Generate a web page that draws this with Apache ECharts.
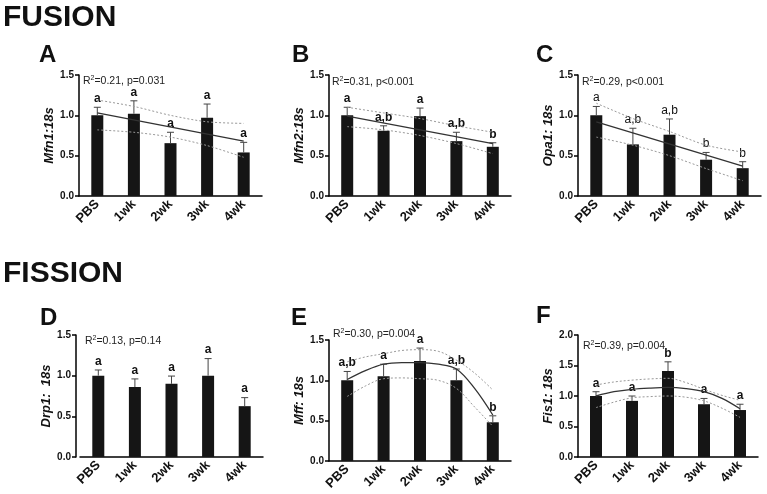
<!DOCTYPE html>
<html><head><meta charset="utf-8">
<script src="https://cdn.jsdelivr.net/npm/echarts@6/dist/echarts.min.js"></script>
<style>html,body{margin:0;padding:0;background:#fff}#c{width:767px;height:494px}</style>
</head><body><div id="c"></div>
<script>
// ---------- data ----------
const cats = ['PBS', '1wk', '2wk', '3wk', '4wk'];
const yTitles = ['Mfn1:18s', 'Mfn2:18s', 'Opa1: 18s', 'Drp1:  18s', 'Mff: 18s', 'Fis1: 18s'];
const panelLetters = ['A', 'B', 'C', 'D', 'E', 'F'];
const r2Values = ['0.21', '0.31', '0.29', '0.13', '0.30', '0.39'];
const pValues = ['p=0.031', 'p<0.001', 'p<0.001', 'p=0.14', 'p=0.004', 'p=0.004'];
const yMaxes = [1.5, 1.5, 1.5, 1.5, 1.5, 2.0];

// A: Mfn1
const meanA = [1.0, 1.02, 0.655, 0.97, 0.54];
const semA = [0.10, 0.16, 0.135, 0.17, 0.125];
const letA = ['a', 'a', 'a', 'a', 'a'];
const fitXA = [0, 4];
const fitA = [1.03, 0.68];
const bandXA = [0, 1, 2, 3, 4];
const upA = [1.19, 1.11, 1.0, 0.92, 0.90];
const loA = [0.82, 0.79, 0.73, 0.625, 0.48];

// B: Mfn2
const meanB = [1.0, 0.81, 0.99, 0.68, 0.61];
const semB = [0.10, 0.06, 0.10, 0.11, 0.05];
const letB = ['a', 'a,b', 'a', 'a,b', 'b'];
const fitXB = [0, 4];
const fitB = [0.99, 0.65];
const bandXB = [0, 1, 2, 3, 4];
const upB = [1.10, 1.03, 0.96, 0.87, 0.79];
const loB = [0.86, 0.82, 0.75, 0.65, 0.525];

// C: Opa1
const meanC = [1.0, 0.64, 0.76, 0.45, 0.345];
const semC = [0.11, 0.20, 0.195, 0.09, 0.08];
const letC = ['a', 'a,b', 'a,b', 'b', 'b'];
const fitXC = [0, 4];
const fitC = [0.92, 0.37];
const bandXC = [0, 1, 2, 3, 4];
const upC = [1.15, 0.96, 0.80, 0.63, 0.545];
const loC = [0.73, 0.63, 0.50, 0.34, 0.19];

// D: Drp1
const meanD = [1.0, 0.86, 0.90, 1.0, 0.625];
const semD = [0.07, 0.10, 0.095, 0.21, 0.105];
const letD = ['a', 'a', 'a', 'a', 'a'];

// E: Mff
const meanE = [1.0, 1.05, 1.24, 1.0, 0.48];
const semE = [0.11, 0.15, 0.16, 0.14, 0.08];
const letE = ['a,b', 'a', 'a', 'a,b', 'b'];
const curveXE = [0, 0.5, 1, 1.5, 2, 2.5, 3, 3.5, 4];
const fitE = [1.01, 1.12, 1.20, 1.22, 1.22, 1.20, 1.14, 0.90, 0.57];
const upE = [1.23, 1.29, 1.33, 1.37, 1.38, 1.36, 1.25, 1.09, 0.88];
const loE = [0.80, 0.93, 1.02, 1.03, 1.02, 1.00, 0.90, 0.67, 0.43];

// F: Fis1
const meanF = [1.0, 0.92, 1.41, 0.865, 0.77];
const semF = [0.07, 0.08, 0.15, 0.095, 0.095];
const letF = ['a', 'a', 'b', 'a', 'a'];
const curveXF = [0, 0.5, 1, 1.5, 2, 2.5, 3, 3.5, 4];
const fitF = [1.0, 1.07, 1.11, 1.13, 1.14, 1.12, 1.07, 0.96, 0.79];
const upF = [1.18, 1.23, 1.26, 1.28, 1.29, 1.22, 1.11, 1.01, 0.93];
const loF = [0.81, 0.90, 0.97, 0.99, 1.00, 0.98, 0.92, 0.80, 0.65];

// ---------- build ----------
const FONT = '"Liberation Sans", Arial, Helvetica, sans-serif';
const panels = [
  {mean: meanA, sem: semA, let: letA, fitX: fitXA, fit: fitA, bandX: bandXA, up: upA, lo: loA, smooth: false, letW: 'bold'},
  {mean: meanB, sem: semB, let: letB, fitX: fitXB, fit: fitB, bandX: bandXB, up: upB, lo: loB, smooth: false, letW: 'bold'},
  {mean: meanC, sem: semC, let: letC, fitX: fitXC, fit: fitC, bandX: bandXC, up: upC, lo: loC, smooth: false, letW: 'normal'},
  {mean: meanD, sem: semD, let: letD, fitX: null, letW: 'bold'},
  {mean: meanE, sem: semE, let: letE, fitX: curveXE, fit: fitE, bandX: curveXE, up: upE, lo: loE, smooth: 0.35, letW: 'bold'},
  {mean: meanF, sem: semF, let: letF, fitX: curveXF, fit: fitF, bandX: curveXF, up: upF, lo: loF, smooth: 0.35, letW: 'bold'}
];
const grids = [
  {left: 79, top: 75, width: 183, height: 121},
  {left: 329, top: 75, width: 182, height: 121},
  {left: 578, top: 75, width: 183, height: 121},
  {left: 80, top: 335, width: 183, height: 122},
  {left: 329, top: 340, width: 182, height: 121},
  {left: 578, top: 335, width: 180, height: 122}
];
const yOffsets = [0, 0, 0, 4, 0, 0];
const letterPos = [[39, 64], [292, 64], [536, 64], [40, 327], [291, 327], [536, 325]];
const statPos = [[83, 81.5], [332, 82], [582, 82], [85, 341], [333, 334.5], [583, 346]];

const option = {
  animation: false,
  backgroundColor: '#ffffff',
  textStyle: {fontFamily: FONT},
  grid: grids,
  xAxis: [], yAxis: [], series: [], graphic: []
};

panels.forEach((p, k) => {
  option.xAxis.push({
    type: 'category', gridIndex: k, data: cats,
    axisLine: {onZero: false, lineStyle: {color: '#000', width: 1.5}},
    axisTick: {show: false},
    axisLabel: {rotate: 45, interval: 0, margin: 6, fontSize: 13, fontWeight: 'bold', color: '#111', fontFamily: FONT}
  });
  option.xAxis.push({type: 'value', gridIndex: k, min: -0.5, max: 4.5, show: false, axisLine: {onZero: false}});
  option.yAxis.push({
    type: 'value', gridIndex: k, min: 0, max: yMaxes[k], interval: 0.5, offset: yOffsets[k],
    axisLine: {show: true, onZero: false, lineStyle: {color: '#000', width: 1.5}},
    axisTick: {show: true, length: 4, lineStyle: {color: '#000', width: 1.5}},
    splitLine: {show: false},
    axisLabel: {formatter: v => v.toFixed(1), fontSize: 10, fontWeight: 'bold', color: '#111', margin: 5, fontFamily: FONT},
    name: yTitles[k], nameLocation: 'middle', nameGap: 23,
    nameTextStyle: {fontSize: 13, fontStyle: 'italic', fontWeight: 'bold', color: '#111', fontFamily: FONT}
  });
  option.series.push({
    type: 'bar', xAxisIndex: 2 * k, yAxisIndex: k, data: p.mean, barWidth: 12,
    itemStyle: {color: '#151515'}, z: 2, silent: true
  });
  const letters = p.let, letW = p.letW;
  option.series.push({
    type: 'custom', xAxisIndex: 2 * k, yAxisIndex: k, z: 3, silent: true,
    data: p.mean.map((m, i) => [i, m, m + p.sem[i]]),
    renderItem: function (params, api) {
      const i = api.value(0);
      const b = api.coord([i, api.value(1)]);
      const t = api.coord([i, api.value(2)]);
      return {type: 'group', children: [
        {type: 'line', shape: {x1: b[0], y1: b[1], x2: t[0], y2: t[1]}, style: {stroke: '#444', lineWidth: 1}},
        {type: 'line', shape: {x1: t[0] - 3.5, y1: t[1], x2: t[0] + 3.5, y2: t[1]}, style: {stroke: '#444', lineWidth: 1}},
        {type: 'text', x: t[0], y: t[1] - 2.5, style: {text: letters[params.dataIndex], fontSize: 12, fontWeight: letW,
          fontFamily: FONT, fill: '#111', align: 'center', verticalAlign: 'bottom'}}
      ]};
    }
  });
  if (p.fitX) {
    option.series.push({
      type: 'line', xAxisIndex: 2 * k + 1, yAxisIndex: k, z: 4, silent: true, symbol: 'none', smooth: p.smooth,
      data: p.fitX.map((x, i) => [x, p.fit[i]]), lineStyle: {color: '#333', width: 1.3}
    });
    [p.up, p.lo].forEach(arr => option.series.push({
      type: 'line', xAxisIndex: 2 * k + 1, yAxisIndex: k, z: 4, silent: true, symbol: 'none', smooth: p.smooth || 0.3,
      data: p.bandX.map((x, i) => [x, arr[i]]), lineStyle: {color: '#9a9a9a', width: 1, type: [2, 2]}
    }));
  }
  option.graphic.push({
    type: 'text', left: letterPos[k][0], top: letterPos[k][1] - 21,
    style: {text: panelLetters[k], font: 'bold 24px ' + FONT, fill: '#111'}
  });
  option.graphic.push({
    type: 'text', x: statPos[k][0], y: statPos[k][1],
    style: {
      text: '{r|R}{s|2}{r|=' + r2Values[k] + ', ' + pValues[k] + '}',
      verticalAlign: 'middle',
      rich: {
        r: {fontSize: 10.5, fontFamily: FONT, fill: '#222', lineHeight: 13},
        s: {fontSize: 7, fontFamily: FONT, fill: '#222', lineHeight: 13, verticalAlign: 'top'}
      }
    }
  });
});

option.graphic.push({type: 'text', left: 3, top: 3, style: {text: 'FUSION', font: 'bold 30px ' + FONT, fill: '#111'}});
option.graphic.push({type: 'text', left: 3, top: 259, style: {text: 'FISSION', font: 'bold 30px ' + FONT, fill: '#111'}});

const chart = echarts.init(document.getElementById('c'), null, {renderer: 'canvas'});
chart.setOption(option);
</script></body></html>
